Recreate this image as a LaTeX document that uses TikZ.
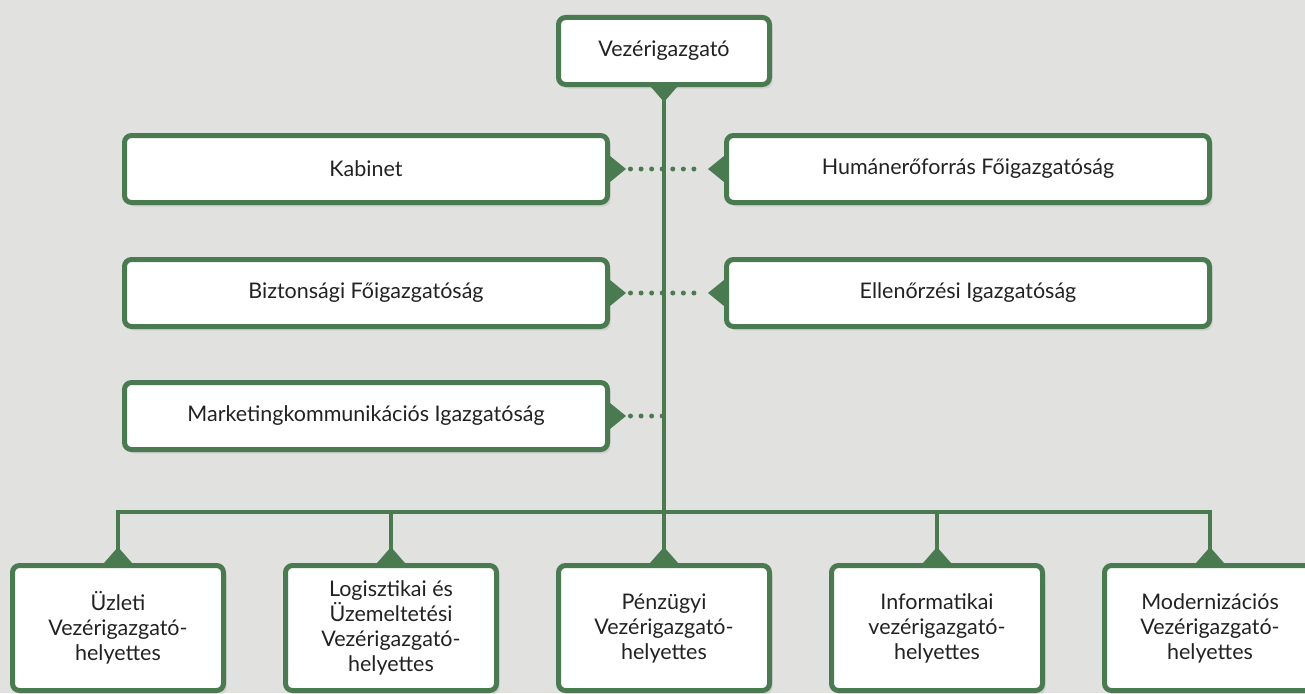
\documentclass[tikz,border=0pt]{standalone}
\usepackage{fontspec}
\setmainfont{Lato}
\usetikzlibrary{shadows}

\definecolor{orggreen}{RGB}{74,123,80}
\definecolor{orgbg}{RGB}{225,225,223}
\definecolor{orgtext}{RGB}{34,34,34}

\tikzset{
  unitbox/.style={draw=orggreen, line width=5pt, fill=white, rounded corners=7pt,
    text=orgtext, font=\fontsize{21.5}{25}\selectfont, align=center, inner sep=0pt,
    drop shadow={opacity=0.18, shadow xshift=3pt, shadow yshift=-4pt}},
  topbox/.style={unitbox, minimum width=211pt, minimum height=67pt},
  staffbox/.style={unitbox, minimum width=483pt, minimum height=67pt},
  deputybox/.style={unitbox, minimum width=211pt, minimum height=125pt},
  orgline/.style={draw=orggreen, line width=4pt},
  dotline/.style={draw=orggreen, line width=5pt, line cap=round, dash pattern=on 0pt off 10.57pt},
  tabtri/.style={fill=orggreen},
}

\begin{document}
\begin{tikzpicture}[x=1pt, y=-1pt]
  \path[use as bounding box, fill=orgbg] (0,0) rectangle (1305,693);
  \clip (0,0) rectangle (1305,693);

  % top
  \node[topbox] (ceo) at (664,51) {Vezérigazgató};

  % staff units
  \node[staffbox] (kab) at (366,169) {Kabinet};
  \node[staffbox] (hum) at (968,169) {Humánerőforrás Főigazgatóság};
  \node[staffbox] (bizt) at (366,293) {Biztonsági Főigazgatóság};
  \node[staffbox] (ell) at (968,293) {Ellenőrzési Igazgatóság};
  \node[staffbox] (mark) at (366,416) {Marketingkommunikációs Igazgatóság};

  % deputies
  \node[deputybox] (uzl) at (118,628) {Üzleti\\Vezérigazgató-\\helyettes};
  \node[deputybox] (log) at (391,628) {Logisztikai és\\Üzemeltetési\\Vezérigazgató-\\helyettes};
  \node[deputybox] (penz) at (664,628) {Pénzügyi\\Vezérigazgató-\\helyettes};
  \node[deputybox] (info) at (937,628) {Informatikai\\vezérigazgató-\\helyettes};
  \node[deputybox] (mod) at (1210,628) {Modernizációs\\Vezérigazgató-\\helyettes};

  % dotted links
  \coordinate (mkend) at (ceo.south |- mark.east);
  \draw[dotline, shorten <=20.5pt, shorten >=24pt] (kab.east) -- (hum.west);
  \draw[dotline, shorten <=20.5pt, shorten >=24pt] (bizt.east) -- (ell.west);
  \draw[dotline, shorten <=20.5pt] (mark.east) -- (mkend);

  % tree
  \coordinate (bus) at (664,512);
  \draw[orgline] (ceo.south) -- (bus);
  \draw[orgline] (uzl.north) |- (bus) -| (mod.north);
  \foreach \d in {log,penz,info}
    \draw[orgline] (\d.north) -- (\d.north |- bus);

  % tabs
  \fill[tabtri] (ceo.south) ++(-13,0) -- ++(26,0) -- ++(-13,15) -- cycle;
  \foreach \s in {kab,bizt,mark}
    \fill[tabtri] (\s.east) ++(0,-13) -- ++(0,26) -- ++(16,-13) -- cycle;
  \foreach \s in {hum,ell}
    \fill[tabtri] (\s.west) ++(0,-13) -- ++(0,26) -- ++(-16,-13) -- cycle;
  \foreach \d in {uzl,log,penz,info,mod}
    \fill[tabtri] (\d.north) ++(-14,0) -- ++(28,0) -- ++(-14,-16) -- cycle;
\end{tikzpicture}
\end{document}
